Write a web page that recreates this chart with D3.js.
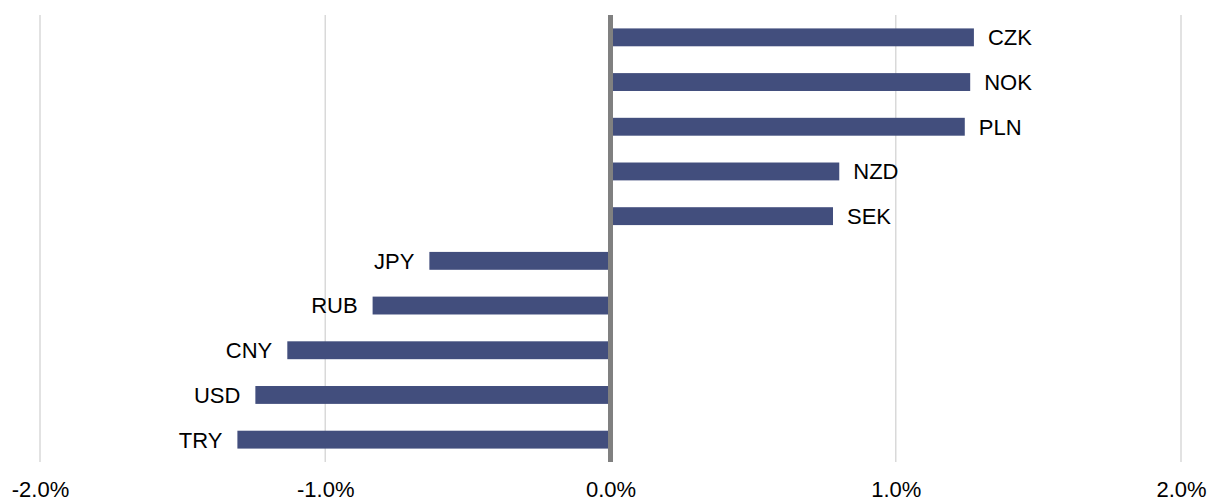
<!DOCTYPE html>
<html>
<head>
<meta charset="utf-8">
<script src="https://cdn.jsdelivr.net/npm/d3@7"></script>
<style>
  html, body { margin: 0; padding: 0; background: #fff; }
  svg text { font-family: "Liberation Sans", Arial, sans-serif; fill: #000; }
</style>
</head>
<body>
<svg id="chart"></svg>
<script>
// currencies, top to bottom
var currencies = ["CZK", "NOK", "PLN", "NZD", "SEK", "JPY", "RUB", "CNY", "USD", "TRY"];
// change in percent
var changes = [1.274, 1.261, 1.242, 0.802, 0.780, -0.635, -0.834, -1.133, -1.245, -1.308];
var xTicks = [-2, -1, 0, 1, 2];

var width = 1227, height = 501;
var plotLeft = 40, plotRight = 1181, plotTop = 15, plotBottom = 462;

var svg = d3.select("#chart")
    .attr("width", width)
    .attr("height", height);

var x = d3.scaleLinear().domain([-2, 2]).range([plotLeft, plotRight]);
var y = d3.scaleBand().domain(currencies).range([plotTop, plotBottom]).paddingInner(0.6).paddingOuter(0.3);

// gridlines
svg.append("g").selectAll("line")
    .data(xTicks.filter(function(d){ return d != 0; }))
    .enter().append("line")
    .attr("x1", function(d){ return x(d); })
    .attr("x2", function(d){ return x(d); })
    .attr("y1", plotTop)
    .attr("y2", plotBottom)
    .attr("stroke", "#d9d9d9")
    .attr("stroke-width", 1.5);

// tick labels
var xAxis = d3.axisBottom(x).tickValues(xTicks)
    .tickFormat(function(d){ return d.toFixed(1) + "%"; })
    .tickSize(0).tickPadding(0);
var gx = svg.append("g").attr("transform", "translate(0," + 475 + ")").call(xAxis);
gx.select(".domain").remove();
gx.selectAll("text")
    .attr("font-size", "22px")
    .attr("font-family", "Liberation Sans, Arial, sans-serif")
    .attr("fill", "#000")
    .attr("dy", "1em");

// bars
var rows = currencies.map(function(c, i){ return {name: c, value: changes[i]}; });

svg.append("g").selectAll("rect")
    .data(rows)
    .enter().append("rect")
    .attr("x", function(d){ return d.value < 0 ? x(d.value) : x(0) + 2.5; })
    .attr("width", function(d){ return d.value < 0 ? x(0) - 2.5 - x(d.value) : x(d.value) - x(0) - 2.5; })
    .attr("y", function(d){ return y(d.name); })
    .attr("height", y.bandwidth())
    .attr("fill", "#424e7d");

// labels
svg.append("g").selectAll("text")
    .data(rows)
    .enter().append("text")
    .attr("x", function(d){ return d.value < 0 ? x(d.value) - 15 : x(d.value) + 14; })
    .attr("y", function(d){ return y(d.name) + y.bandwidth() / 2; })
    .attr("dy", "0.36em")
    .attr("text-anchor", function(d){ return d.value < 0 ? "end" : "start"; })
    .attr("font-size", "22px")
    .text(function(d){ return d.name; });

// zero line
svg.append("line")
    .attr("x1", x(0)).attr("x2", x(0))
    .attr("y1", plotTop).attr("y2", plotBottom)
    .attr("stroke", "#808080")
    .attr("stroke-width", 5);
</script>
</body>
</html>
